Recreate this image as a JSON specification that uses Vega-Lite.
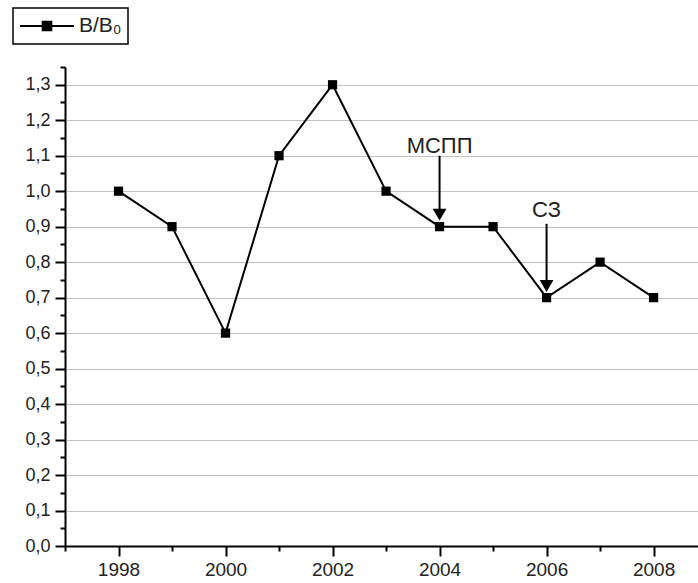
{
  "$schema": "https://vega.github.io/schema/vega-lite/v6.json",
  "width": 633,
  "height": 479,
  "autosize": {"type": "none"},
  "padding": {"left": 65, "top": 67, "right": 0, "bottom": 37},
  "background": "white",
  "config": {
    "view": {"stroke": null},
    "font": "Liberation Sans",
    "axis": {"labelFont": "Liberation Sans", "labelColor": "#222", "tickColor": "black", "domainColor": "black"}
  },
  "datasets": {
    "series": [
      {"year": 1998, "value": 1.0},
      {"year": 1999, "value": 0.9},
      {"year": 2000, "value": 0.6},
      {"year": 2001, "value": 1.1},
      {"year": 2002, "value": 1.3},
      {"year": 2003, "value": 1.0},
      {"year": 2004, "value": 0.9},
      {"year": 2005, "value": 0.9},
      {"year": 2006, "value": 0.7},
      {"year": 2007, "value": 0.8},
      {"year": 2008, "value": 0.7}
    ],
    "notes": [
      {"year": 2004, "label": "МСПП", "text_at": 1.127, "arrow_from": 1.1, "arrow_to": 0.934},
      {"year": 2006, "label": "СЗ", "text_at": 0.948, "arrow_from": 0.908, "arrow_to": 0.733}
    ]
  },
  "resolve": {"axis": {"x": "independent", "y": "independent"}},
  "layer": [
    {
      "data": {"name": "series"},
      "mark": {"type": "line", "stroke": "black", "strokeWidth": 2},
      "encoding": {
        "x": {
          "field": "year", "type": "quantitative",
          "scale": {"domain": [1997, 2008.83], "nice": false, "zero": false},
          "axis": {
            "values": [1998, 2000, 2002, 2004, 2006, 2008], "format": "d",
            "grid": false, "tickSize": 10, "tickWidth": 2, "domainWidth": 2,
            "labelFontSize": 19, "labelPadding": 4, "title": null, "labelFlush": false
          }
        },
        "y": {
          "field": "value", "type": "quantitative",
          "scale": {"domain": [0, 1.35], "nice": false},
          "axis": {
            "values": [0, 0.1, 0.2, 0.3, 0.4, 0.5, 0.6, 0.7, 0.8, 0.9, 1.0, 1.1, 1.2, 1.3],
            "labelExpr": "replace(format(datum.value, '.1f'), '.', ',')",
            "grid": true, "gridColor": "#c2c2c2", "gridWidth": 1.2,
            "tickSize": 10, "tickWidth": 2, "domainWidth": 2,
            "labelFontSize": 18, "labelPadding": 5, "title": null, "labelFlush": false
          }
        },
        "color": {
          "datum": "B/B₀", "type": "nominal",
          "scale": {"range": ["black"]},
          "legend": {
            "title": null, "orient": "none", "legendX": -52, "legendY": -59,
            "symbolType": "M-1,0H1M-0.16,-0.16H0.16V0.16H-0.16Z",
            "symbolSize": 2916, "symbolStrokeWidth": 2, "symbolFillColor": "black", "symbolStrokeColor": "black",
            "clipHeight": 24, "labelFontSize": 21, "labelColor": "#222", "labelFont": "Liberation Sans",
            "labelOffset": 4, "padding": 6, "strokeColor": "black", "cornerRadius": 0,
            "encode": {
              "symbols": {"update": {"fill": {"value": "black"}, "stroke": {"value": "black"}, "strokeWidth": {"value": 2}}},
              "legend": {"update": {"strokeWidth": {"value": 1.5}}}
            }
          }
        }
      }
    },
    {
      "data": {"name": "series"},
      "mark": {"type": "point", "shape": "square", "filled": true, "size": 85, "color": "black", "opacity": 1},
      "encoding": {
        "x": {"field": "year", "type": "quantitative", "axis": null},
        "y": {"field": "value", "type": "quantitative", "axis": null}
      }
    },
    {
      "data": {"name": "notes"},
      "mark": {"type": "rule", "stroke": "black", "strokeWidth": 2},
      "encoding": {
        "x": {
          "field": "year", "type": "quantitative",
          "axis": {
            "orient": "bottom",
            "values": [1997, 1999, 2001, 2003, 2005, 2007],
            "labels": false, "grid": false, "domain": false, "tickSize": 5, "tickWidth": 2, "title": null
          }
        },
        "y": {
          "field": "arrow_from", "type": "quantitative",
          "axis": {
            "orient": "left",
            "values": [0.05, 0.15, 0.25, 0.35, 0.45, 0.55, 0.65, 0.75, 0.85, 0.95, 1.05, 1.15, 1.25, 1.35],
            "labels": false, "grid": false, "domain": false, "tickSize": 5, "tickWidth": 2, "title": null
          }
        },
        "y2": {"field": "arrow_to"}
      }
    },
    {
      "data": {"name": "notes"},
      "mark": {"type": "point", "shape": "triangle-down", "filled": true, "size": 190, "color": "black", "opacity": 1},
      "encoding": {
        "x": {"field": "year", "type": "quantitative", "axis": null},
        "y": {"field": "arrow_to", "type": "quantitative", "axis": null}
      }
    },
    {
      "data": {"name": "notes"},
      "mark": {"type": "text", "fontSize": 22, "font": "Liberation Sans", "color": "#222", "baseline": "middle", "align": "center"},
      "encoding": {
        "x": {"field": "year", "type": "quantitative", "axis": null},
        "y": {"field": "text_at", "type": "quantitative", "axis": null},
        "text": {"field": "label"}
      }
    }
  ]
}
